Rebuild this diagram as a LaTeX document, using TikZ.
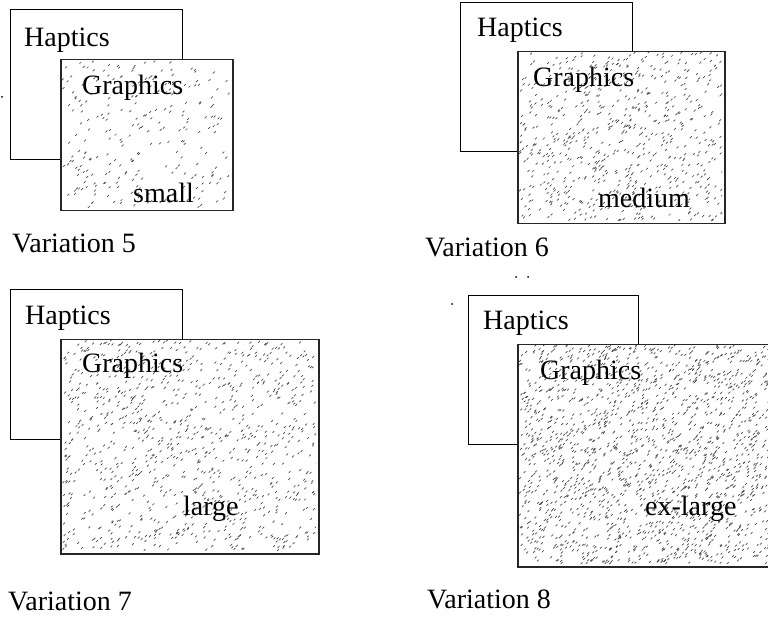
\documentclass[tikz,border=0pt]{standalone}
\usepackage{fontspec}
\setmainfont{Liberation Serif}
\begin{document}
\begin{tikzpicture}[x=1pt,y=-1pt,
  hapbox/.style={draw=black,line width=1.2pt,fill=white,anchor=north west,inner sep=0pt},
  grabox/.style={draw=black!85,line width=1.5pt,fill=white,anchor=north west,inner sep=0pt},
  lbl/.style={anchor=base west,inner sep=0pt,font=\fontsize{28}{30}\selectfont},
  speck/.style={draw=black!70,line width=0.7pt,line cap=round},
  artdot/.style={fill=black,circle,inner sep=0pt,minimum size=2pt}]
\useasboundingbox (0,0) rectangle (768,617);
\pgfmathsetseed{7}
\newcommand\mystipple[5]{%
  \begin{scope}
  \clip (#1,#2) rectangle (#3,#4);
  \foreach \k in {1,...,#5}{%
    \pgfmathsetmacro\px{#1+rnd*(#3-#1)}%
    \pgfmathsetmacro\py{#2+rnd*(#4-#2)}%
    \draw[speck] (\px,\py) -- ++(1.6,-1.6);
  }
  \end{scope}}

% ---- Variation 5
\node[hapbox,minimum width=172pt,minimum height=150pt] (hap5) at (10,9) {};
\node[grabox,minimum width=172pt,minimum height=151pt] (gra5) at (60,59) {};
\mystipple{62}{61}{230}{208}{260}
\node[lbl] (th5) at (24,47) {Haptics};
\node[lbl] (tg5) at (82,95) {Graphics};
\node[lbl] (ts5) at (133,203) {small};
\node[lbl] (tv5) at (12,253) {Variation 5};

% ---- Variation 6
\node[hapbox,minimum width=172pt,minimum height=149pt] (hap6) at (460,2) {};
\node[grabox,minimum width=207pt,minimum height=172pt] (gra6) at (517,51) {};
\mystipple{519}{53}{722}{221}{700}
\node[lbl] (th6) at (477,37) {Haptics};
\node[lbl] (tg6) at (533,87) {Graphics};
\node[lbl] (ts6) at (598,208) {medium};
\node[lbl] (tv6) at (425,257) {Variation 6};
\node[artdot] (d1) at (516,277) {};
\node[artdot] (d2) at (528,277) {};

% ---- Variation 7
\node[hapbox,minimum width=172pt,minimum height=150pt] (hap7) at (10,289) {};
\node[grabox,minimum width=258pt,minimum height=214pt] (gra7) at (60,339) {};
\mystipple{62}{341}{316}{551}{1000}
\node[lbl] (th7) at (25,325) {Haptics};
\node[lbl] (tg7) at (82,373) {Graphics};
\node[lbl] (ts7) at (183,515) {large};
\node[lbl] (tv7) at (8,610) {Variation 7};

% ---- Variation 8
\node[hapbox,minimum width=170pt,minimum height=149pt] (hap8) at (468,295) {};
\node[grabox,minimum width=260pt,minimum height=222pt] (gra8) at (517,344) {};
\mystipple{519}{346}{768}{564}{1800}
\node[lbl] (th8) at (483,330) {Haptics};
\node[lbl] (tg8) at (540,379) {Graphics};
\node[lbl] (ts8) at (645,515) {ex-large};
\node[lbl] (tv8) at (427,608) {Variation 8};
\node[artdot] (d3) at (452,304) {};
\node[artdot] (d4) at (2,97) {};
\end{tikzpicture}
\end{document}
